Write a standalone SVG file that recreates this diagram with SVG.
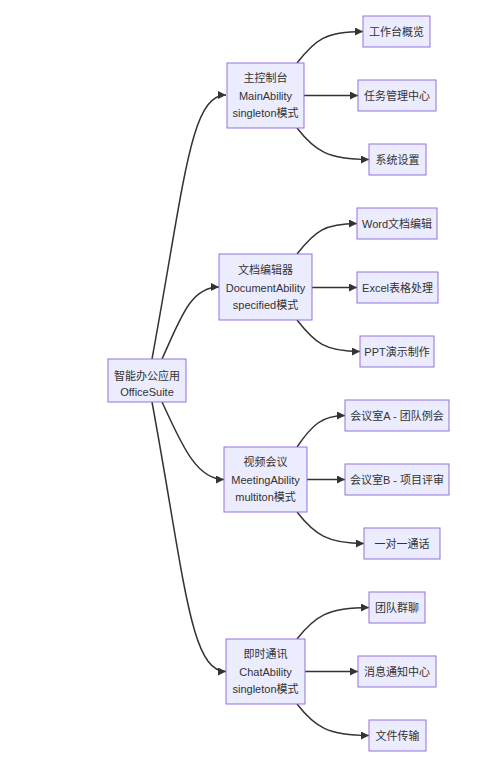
<svg xmlns="http://www.w3.org/2000/svg" width="477" height="764" viewBox="0 0 477 764">
<style>
.node rect{fill:#ECECFF;stroke:#9370DB;stroke-width:1}
.node text{font-family:"Liberation Sans","Noto Sans CJK SC",sans-serif;font-size:11px;fill:#333;text-anchor:middle;dominant-baseline:central}
.edges path{fill:none;stroke:#333;stroke-width:1.5;marker-end:url(#arr)}
</style>
<defs>
<marker id="arr" viewBox="0 0 10 10" refX="10" refY="5" markerWidth="8" markerHeight="8" markerUnits="userSpaceOnUse" orient="auto">
<path d="M0,0 L10,5 L0,10 z" fill="#333"/>
</marker>
</defs>
<rect width="477" height="764" fill="#fff"/>
<g class="edges">
<path d="M152,359 C185,180 190,95 226,95"/>
<path d="M162,359 C180,320 190,287 219,287"/>
<path d="M162,402 C180,440 195,479.5 224,479.5"/>
<path d="M152,402 C185,581 190,671.5 226,671.5"/>
<path d="M297,63 C315,40 325,31.5 363,31.5"/>
<path d="M304,95.5 L358,95.5"/>
<path d="M297,128 C315,151 328,159.5 369,159.5"/>
<path d="M297,254 C315,231 325,223.5 357,223.5"/>
<path d="M312,287.5 L357,287.5"/>
<path d="M297,320 C315,343 325,351.5 360,351.5"/>
<path d="M297,447 C312,425 322,415.5 345,415.5"/>
<path d="M307,479.5 L345,479.5"/>
<path d="M297,512 C315,535 328,543.5 364,543.5"/>
<path d="M297,639 C315,616 328,607.5 369,607.5"/>
<path d="M305,671.5 L358,671.5"/>
<path d="M297,704 C315,727 328,735.5 369,735.5"/>
</g>
<g id="root" class="node"><rect x="108" y="359" width="78" height="43"/><text x="147" y="375.5">智能办公应用</text><text x="147" y="392">OfficeSuite</text></g>
<g id="main" class="node"><rect x="227" y="63" width="77" height="65"/><text x="265.5" y="78">主控制台</text><text x="265.5" y="95.5">MainAbility</text><text x="265.5" y="113">singleton模式</text></g>
<g id="doc" class="node"><rect x="219" y="254" width="93" height="66"/><text x="265.5" y="270">文档编辑器</text><text x="265.5" y="287.5">DocumentAbility</text><text x="265.5" y="305">specified模式</text></g>
<g id="meeting" class="node"><rect x="224" y="447" width="83" height="65"/><text x="265.5" y="462">视频会议</text><text x="265.5" y="479.5">MeetingAbility</text><text x="265.5" y="497">multiton模式</text></g>
<g id="chat" class="node"><rect x="226" y="639" width="79" height="65"/><text x="265.5" y="654">即时通讯</text><text x="265.5" y="671.5">ChatAbility</text><text x="265.5" y="689">singleton模式</text></g>
<g id="m1" class="node"><rect x="363" y="16" width="67" height="31"/><text x="396.5" y="31.5">工作台概览</text></g>
<g id="m2" class="node"><rect x="358" y="80" width="78" height="31"/><text x="397" y="95.5">任务管理中心</text></g>
<g id="m3" class="node"><rect x="369" y="144" width="57" height="31"/><text x="397.5" y="159.5">系统设置</text></g>
<g id="d1" class="node"><rect x="357" y="208" width="80" height="31"/><text x="397" y="223.5">Word文档编辑</text></g>
<g id="d2" class="node"><rect x="357" y="272" width="81" height="31"/><text x="397.5" y="287.5">Excel表格处理</text></g>
<g id="d3" class="node"><rect x="360" y="336" width="74" height="31"/><text x="397" y="351.5">PPT演示制作</text></g>
<g id="v1" class="node"><rect x="345" y="400" width="104" height="31"/><text x="397" y="415.5">会议室A - 团队例会</text></g>
<g id="v2" class="node"><rect x="345" y="464" width="104" height="31"/><text x="397" y="479.5">会议室B - 项目评审</text></g>
<g id="v3" class="node"><rect x="364" y="528" width="76" height="31"/><text x="402" y="543.5">一对一通话</text></g>
<g id="c1" class="node"><rect x="369" y="592" width="56" height="31"/><text x="397" y="607.5">团队群聊</text></g>
<g id="c2" class="node"><rect x="358" y="656" width="78" height="31"/><text x="397" y="671.5">消息通知中心</text></g>
<g id="c3" class="node"><rect x="369" y="720" width="57" height="31"/><text x="397.5" y="735.5">文件传输</text></g>
</svg>
